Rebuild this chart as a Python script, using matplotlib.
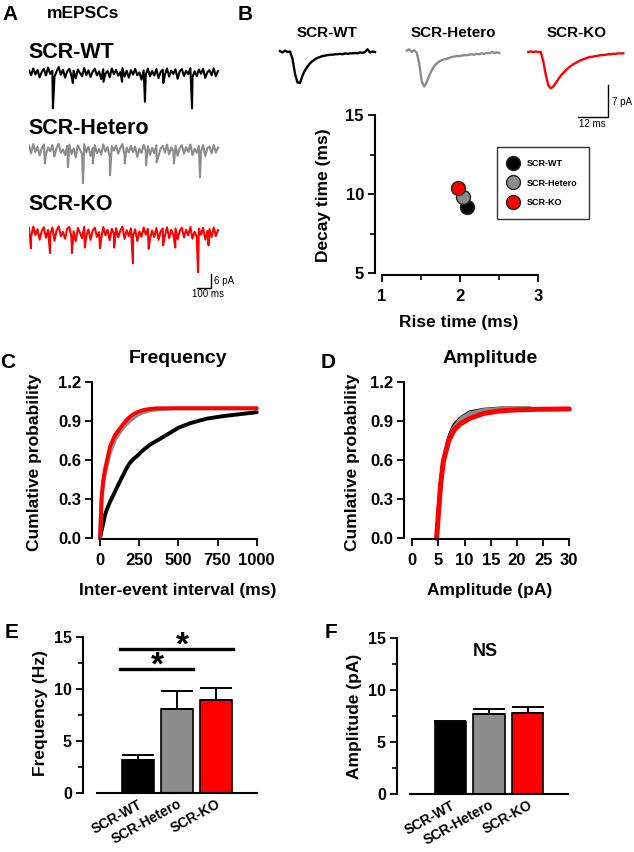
import numpy as np
import matplotlib
matplotlib.use('Agg')
import matplotlib.pyplot as plt
from matplotlib.ticker import MultipleLocator, FormatStrFormatter

plt.rcParams['font.family'] = ['Liberation Sans', 'DejaVu Sans']
plt.rcParams['font.weight'] = 'bold'
plt.rcParams['axes.linewidth'] = 1.5

W, H = 634, 852

groups = ['SCR-WT', 'SCR-Hetero', 'SCR-KO']
colors = ['#000000', '#8c8c8c', '#ff0000']

# ---- A: example mEPSC recordings (pA), 1421 ms each
trace_ms = 1421
wt_noise = [1.2, -1.0, 2.1, -0.6, 1.4, -2.0, 0.5, 1.9, -1.1, 2.5,
            -0.4, 1.0, -1.7, 0.8, 2.7, -0.8, 1.5, -2.1, 0.7, 2.0,
            -1.3, 1.1, -2.4, 1.6, 0.1, -1.5, 2.3, -0.9, 1.2, -1.8,
            0.6, 2.0, -1.1, 0.8, -2.7, 1.7, -0.3, 1.0, -1.9, 2.1,
            -0.5, 1.4, -1.2, 0.4, 2.2, -1.6, 1.0, -2.1, 1.3, -0.7,
            1.9, -1.0, 0.3, -3.0, 1.2, -0.8, 2.0, -1.5, 0.9, -1.1,
            1.8, -2.3, 0.5, 1.5, -0.8, 2.1, -1.6, 1.1, -0.4, 1.7,
            -2.6, 0.8, 1.8, -1.3, 1.0, -0.5, 2.3, -1.8, 0.8, -1.4,
            1.6, -0.3, 1.9, -2.2, 0.4, 1.3, -1.0, 2.1, -1.4, 0.9]
het_noise = [2.0, -1.5, 2.8, -0.9, 1.6, -2.4, 0.9, 2.6, -1.8, 1.3,
             -0.6, 2.4, -2.9, 1.1, 2.9, -1.2, 0.4, -2.2, 1.9, 2.5,
             -1.7, 0.8, -3.3, 2.2, 0.3, -1.9, 2.7, -1.0, 1.5, -2.6,
             1.0, 2.3, -1.4, 0.6, -2.0, 2.6, -0.7, 1.4, -2.8, 1.8,
             -0.2, 2.1, -1.6, 0.9, 2.8, -2.3, 1.2, -1.1, 2.0, -0.9,
             1.6, -3.1, 0.7, -1.3, 2.4, -0.5, 1.8, -2.1, 1.1, -1.4,
             2.2, -2.7, 0.8, 1.9, -1.0, 2.5, -1.9, 1.3, -0.6, 2.0,
             -2.5, 1.0, 2.3, -1.6, 1.4, -0.8, 2.6, -2.2, 0.6, -1.2,
             1.9, -0.6, 2.3, -2.6, 0.9, 1.7, -1.5, 2.4, -1.1, 1.2]
ko_noise = [2.4, -1.6, 3.0, -0.8, 1.8, -2.9, 1.0, 2.7, -2.0, 1.5,
            -0.5, 2.6, -3.4, 1.3, 3.1, -1.4, 0.6, -2.5, 2.1, 2.8,
            -2.0, 0.9, -3.6, 2.4, 0.2, -2.2, 2.9, -1.2, 1.7, -3.0,
            1.2, 2.5, -1.7, 0.5, -2.4, 2.8, -0.9, 1.6, -3.2, 2.0,
            -0.3, 2.3, -1.9, 1.1, 3.0, -2.6, 1.4, -1.3, 2.2, -1.0,
            1.8, -3.5, 0.8, -1.6, 2.6, -0.6, 2.0, -2.4, 1.2, -1.7,
            2.4, -3.0, 0.9, 2.1, -1.2, 2.7, -2.2, 1.5, -0.7, 2.2,
            -2.8, 1.1, 2.5, -1.9, 1.6, -0.9, 2.8, -2.5, 0.7, -1.5,
            2.1, -0.7, 2.5, -2.9, 1.0, 1.9, -1.8, 2.6, -1.3, 1.4]
wt_ev_t = [180, 330, 560, 700, 872, 1010, 1226]
wt_ev_amp = [16.0, 4.5, 4.0, 4.0, 13.0, 4.5, 16.0]
het_ev_t = [120, 293, 406, 480, 609, 720, 880, 960, 1090, 1286]
het_ev_amp = [6.0, 7.7, 15.0, 6.0, 11.4, 6.0, 6.8, 5.5, 6.0, 12.3]
ko_ev_t = [15, 158, 323, 420, 534, 640, 782, 900, 1008, 1100, 1271, 1350]
ko_ev_amp = [6.8, 9.0, 9.0, 6.5, 6.8, 6.5, 13.6, 7.0, 5.5, 6.5, 17.7, 5.5]

# ---- B: averaged mEPSCs (pA, 1 ms sampling) and kinetics
wt_avg = [0.2, -0.1, 0.3, 0.0, 0.1, -1.5, -4.8, -6.7, -6.8, -5.2,
          -4.0, -3.2, -2.5, -2.0, -1.6, -1.3, -1.1, -0.9, -0.8, -0.7,
          -0.6, -0.6, -0.5, -0.5, -0.4, -0.5, -0.3, -0.4, -0.3, -0.3,
          -0.2, -0.3, -0.1, -0.2, 0.0, 0.6, -0.1, 0.1, 0.0]
het_avg = [0.3, 0.6, 0.0, 0.4, -0.2, -2.5, -6.5, -7.6, -6.6, -5.2,
           -4.0, -3.1, -2.5, -2.1, -1.8, -1.6, -1.5, -1.3, -1.1, -1.0,
           -0.9, -0.9, -0.8, -0.7, -0.7, -0.6, -0.5, -0.6, -0.4, -0.5,
           -0.3, -0.4, -0.2, -0.3, 0.0, -0.2, -0.1, -0.2]
ko_avg = [0.0, 0.1, 0.0, 0.1, 0.0, 0.0, -2.0, -5.0, -7.3, -8.0,
          -7.6, -6.8, -6.0, -5.2, -4.6, -4.0, -3.5, -3.1, -2.7, -2.4,
          -2.1, -1.8, -1.6, -1.4, -1.2, -1.1, -1.0, -0.9, -0.8, -0.7,
          -0.66, -0.6, -0.5, -0.5, -0.4, -0.4, -0.3, -0.3, -0.3]
rise_time = [2.09, 2.04, 1.97]
decay_time = [9.18, 9.8, 10.4]

# ---- C: cumulative inter-event interval
iei_ms = [0, 5, 10, 20, 32, 43, 64, 96, 106, 128, 149, 170, 191, 213, 234,
          277, 319, 362, 404, 500, 574, 680, 787, 894, 1000]
iei_wt = [0, 0.03, 0.06, 0.11, 0.18, 0.22, 0.28, 0.36, 0.385, 0.44, 0.49,
          0.54, 0.58, 0.61, 0.63, 0.68, 0.72, 0.75, 0.78, 0.85, 0.885, 0.92,
          0.94, 0.955, 0.97]
iei_het = [0, 0.14, 0.29, 0.42, 0.50, 0.56, 0.66, 0.76, 0.78, 0.82, 0.855,
           0.88, 0.905, 0.925, 0.945, 0.97, 0.985, 0.99, 0.995, 1.0, 1.0,
           1.0, 1.0, 1.0, 1.0]
iei_ko = [0, 0.16, 0.31, 0.44, 0.53, 0.59, 0.705, 0.795, 0.81, 0.846, 0.88,
          0.91, 0.935, 0.954, 0.968, 0.987, 0.995, 1.0, 1.0, 1.0, 1.0,
          1.0, 1.0, 1.0, 1.0]

# ---- D: cumulative amplitude
amp_pa = [4.65, 4.97, 5.4, 5.92, 6.88, 7.2, 7.83, 8.15, 9.1, 9.4, 11.0,
          13.6, 16.75, 20.0, 22.5, 23.1, 30.0]
amp_wt = [0, 0.19, 0.42, 0.60, 0.76, 0.80, 0.86, 0.88, 0.92, 0.93, 0.97,
          0.99, 1.0, 1.0, 1.0, np.nan, np.nan]
amp_het = [0, 0.18, 0.41, 0.59, 0.75, 0.78, 0.84, 0.86, 0.91, 0.923, 0.96,
           0.985, 0.995, 1.0, 1.0, np.nan, np.nan]
amp_ko = [0, 0.18, 0.41, 0.59, 0.74, 0.77, 0.82, 0.84, 0.877, 0.885, 0.923,
          0.96, 0.98, 0.988, 0.991, 0.992, 0.995]

# ---- E/F: bar summaries
freq_mean = [3.17, 8.08, 8.94]
freq_err = [0.48, 1.72, 1.13]
amp_mean = [6.95, 7.66, 7.82]
amp_err = [0.05, 0.48, 0.58]


def fx(x):
    return x / W


def fy(y):
    return 1 - y / H


def rect(x0, y0, x1, y1):
    return [x0 / W, 1 - y1 / H, (x1 - x0) / W, (y1 - y0) / H]


def txt(x, y, s, size, **kw):
    kw.setdefault('ha', 'center')
    kw.setdefault('va', 'center')
    fig.text(fx(x), fy(y), s, fontsize=size, **kw)


def style_axes(ax, left_out, bottom_out=1):
    for s in ['top', 'right']:
        ax.spines[s].set_visible(False)
    ax.spines['left'].set_position(('outward', left_out * 0.72))
    ax.spines['bottom'].set_position(('outward', bottom_out * 0.72))
    ax.tick_params(direction='out', length=5, width=1.3, pad=3)
    ax.tick_params(which='minor', direction='out', length=3.5, width=1.2)


def build_trace(noise, ev_t, ev_amp):
    t = np.linspace(0, trace_ms, len(noise))
    tt = np.concatenate([t, ev_t])
    yy = np.concatenate([noise, -np.array(ev_amp)])
    order = np.argsort(tt, kind='stable')
    return tt[order], yy[order]


fig = plt.figure(figsize=(W / 100, H / 100), dpi=100)

# ================= A
axA = fig.add_axes(rect(29, 40, 231, 300))
axA.set_xlim(0, 1519)
axA.set_ylim(-118, 0)
axA.axis('off')
bases = [-15, -50, -87.7]
for noise, et, ea, base, c in zip([wt_noise, het_noise, ko_noise],
                                  [wt_ev_t, het_ev_t, ko_ev_t],
                                  [wt_ev_amp, het_ev_amp, ko_ev_amp],
                                  bases, colors):
    t, y = build_trace(noise, et, ea)
    axA.plot(t, y + base, color=c, lw=1.5)
axA.plot([1266, 1366, 1366], [-112.4, -112.4, -106.4], color='black', lw=1.0)
txt(10, 14, 'A', 15)
txt(47, 14, 'mEPSCs', 12.5, ha='left')
txt(28, 53, 'SCR-WT', 15.5, ha='left')
txt(28, 128, 'SCR-Hetero', 15.5, ha='left')
txt(28, 205, 'SCR-KO', 15.5, ha='left')
txt(214, 281, '6 pA', 7, ha='left', weight='normal')
txt(208, 294, '100 ms', 7, weight='normal')

# ================= B traces
axT = fig.add_axes(rect(270, 20, 634, 130))
axT.set_xlim(0, 145.6)
axT.set_ylim(-17.14, 7.03)
axT.axis('off')
for avg, start, c in zip([wt_avg, het_avg, ko_avg], [4, 54.7, 103.3], colors):
    axT.plot(start + np.arange(len(avg)), avg, color=c, lw=1.7)
axT.plot([123.3, 135.3, 135.3], [-14.25, -14.25, -7.25], color='black', lw=1.0)
txt(245, 14, 'B', 15)
txt(327, 33, 'SCR-WT', 11)
txt(453, 33, 'SCR-Hetero', 11)
txt(577, 33, 'SCR-KO', 11)
txt(612, 102, '7 pA', 7, ha='left', weight='normal')
txt(592, 124, '12 ms', 7, weight='normal')

# ================= B scatter
axB = fig.add_axes(rect(382, 115, 538, 273))
style_axes(axB, 7, 2)
axB.set_xlim(1, 3)
axB.set_ylim(5, 15)
axB.set_xticks([1, 2, 3])
axB.set_yticks([5, 10, 15])
axB.xaxis.set_minor_locator(MultipleLocator(0.5))
axB.yaxis.set_minor_locator(MultipleLocator(2.5))
axB.tick_params(labelsize=12)
axB.tick_params(axis='x', pad=5)
for rx, dy, c, g in zip(rise_time, decay_time, colors, groups):
    axB.plot(rx, dy, 'o', ms=10, mfc=c, mec='#222222', mew=1.0, label=g,
             clip_on=False)
leg = axB.legend(loc='upper left', bbox_to_anchor=(fx(497), fy(147)),
                 bbox_transform=fig.transFigure, frameon=True, fancybox=False,
                 edgecolor='black', fontsize=6.5, borderaxespad=0,
                 handletextpad=1.0, labelspacing=1.2, borderpad=1.3,
                 handlelength=1.0, numpoints=1)
leg.get_frame().set_linewidth(1.0)
txt(323, 195, 'Decay time (ms)', 12.5, rotation=90)
txt(459, 322, 'Rise time (ms)', 12.5)

# ================= C
axC = fig.add_axes(rect(100, 382.3, 256.7, 538.3))
style_axes(axC, 8, 1)
axC.set_xlim(0, 1000)
axC.set_ylim(0, 1.2)
axC.set_xticks([0, 250, 500, 750, 1000])
axC.set_yticks([0, 0.3, 0.6, 0.9, 1.2])
axC.yaxis.set_major_formatter(FormatStrFormatter('%.1f'))
axC.tick_params(labelsize=12)
axC.tick_params(axis='x', pad=5)
for yv, c in zip([iei_wt, iei_het, iei_ko], colors):
    axC.plot(iei_ms, yv, color=c, lw=2.8, clip_on=False, solid_capstyle='round')
txt(8, 363, 'C', 15)
txt(178, 359, 'Frequency', 14)
txt(35, 462, 'Cumlative probability', 12.5, rotation=90)
txt(178, 591, 'Inter-event interval (ms)', 12.5)

# ================= D
axD = fig.add_axes(rect(412.3, 382.3, 569.3, 538.3))
style_axes(axD, 8, 1)
axD.set_xlim(0, 30)
axD.set_ylim(0, 1.2)
axD.set_xticks([0, 5, 10, 15, 20, 25, 30])
axD.set_yticks([0, 0.3, 0.6, 0.9, 1.2])
axD.yaxis.set_major_formatter(FormatStrFormatter('%.1f'))
axD.tick_params(labelsize=12)
axD.tick_params(axis='x', pad=5)
for yv, c, lw in zip([amp_wt, amp_het, amp_ko], colors, [2.6, 3.0, 3.6]):
    axD.plot(amp_pa, yv, color=c, lw=lw, clip_on=False, solid_capstyle='round')
txt(328, 363, 'D', 15)
txt(490, 359, 'Amplitude', 14)
txt(352, 462, 'Cumlative probability', 12.5, rotation=90)
txt(490, 591, 'Amplitude (pA)', 12.5)


# ================= E / F
def bar_panel(ax, means, errs, left_out):
    style_axes(ax, left_out, 0)
    x = np.arange(len(means))
    ax.bar(x, means, width=0.82, color=colors, edgecolor='black', linewidth=1.2)
    ax.errorbar(x, means, yerr=[np.zeros(len(errs)), errs], fmt='none',
                ecolor='black', elinewidth=1.4, capsize=11.5, capthick=1.4)
    ax.set_xlim(-1.05, 3.05)
    ax.set_ylim(0, 15)
    ax.set_yticks([0, 5, 10, 15])
    ax.yaxis.set_minor_locator(MultipleLocator(2.5))
    ax.set_xticks(x)
    ax.set_xticklabels(groups, rotation=29, ha='right', rotation_mode='anchor')
    ax.tick_params(axis='x', length=0, labelsize=10, pad=3)
    ax.tick_params(axis='y', labelsize=11.5)


axE = fig.add_axes(rect(97, 637, 257, 793))
bar_panel(axE, freq_mean, freq_err, 14)
axE.plot([-0.46, 1.41], [11.9, 11.9], color='black', lw=2.4)
axE.plot([-0.46, 2.44], [13.85, 13.85], color='black', lw=2.4)
axE.text(0.51, 10.75, '*', fontsize=24, ha='center', va='bottom')
axE.text(1.13, 12.6, '*', fontsize=24, ha='center', va='bottom')
txt(12, 632, 'E', 15)
txt(41, 713, 'Frequency (Hz)', 12.5, rotation=90)

axF = fig.add_axes(rect(410, 638, 568, 794))
bar_panel(axF, amp_mean, amp_err, 13)
txt(331, 632, 'F', 15)
txt(485, 651, 'NS', 13)
txt(355, 716, 'Amplitude (pA)', 12.5, rotation=90)

fig.savefig('out.png', dpi=100)
